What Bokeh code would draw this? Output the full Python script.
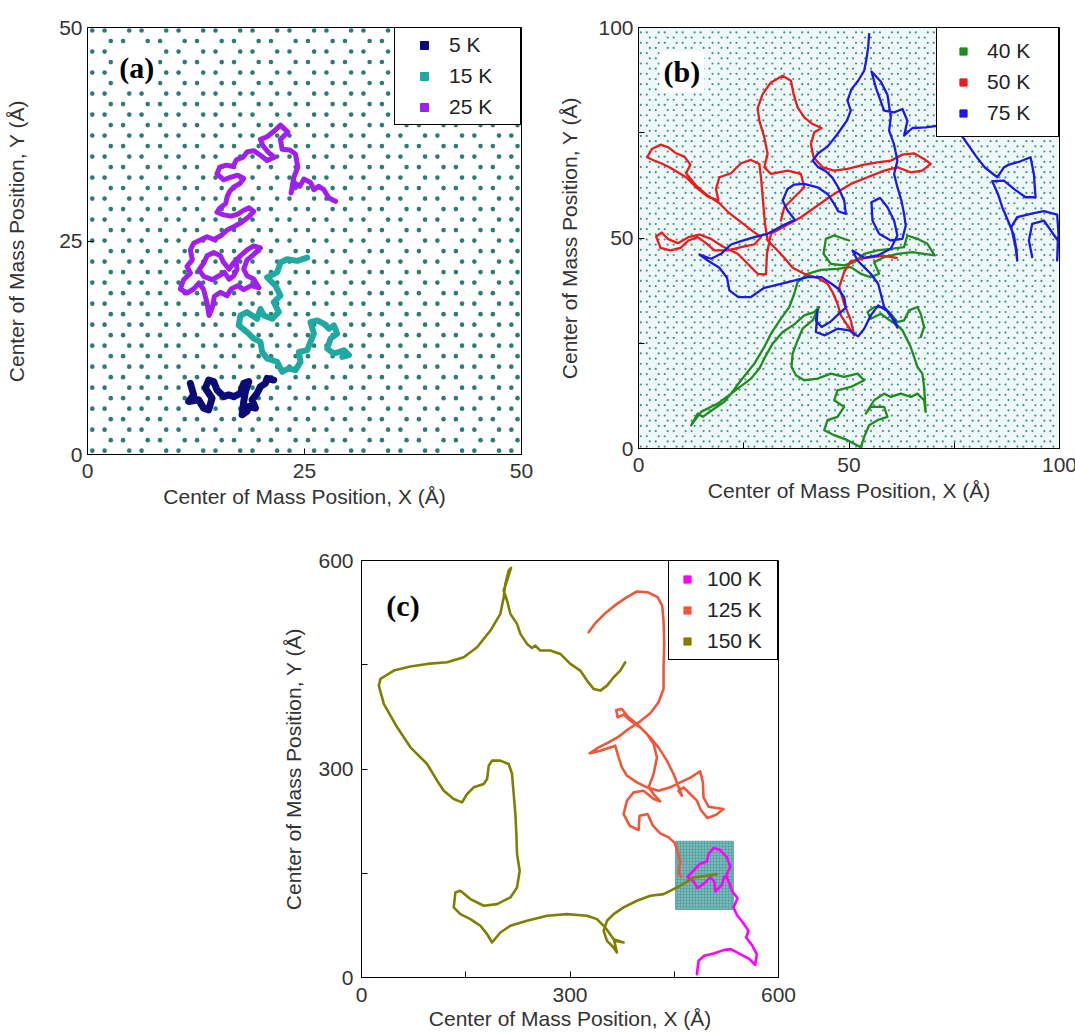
import numpy as np
from bokeh.plotting import figure
from bokeh.models import Range1d, FixedTicker, Label, Spacer
from bokeh.layouts import column, row
from bokeh.embed import file_html
from bokeh.resources import INLINE

FONT = "Liberation Sans"
SERIF = "Liberation Serif"
XLABEL = "Center of Mass Position, X (Å)"
YLABEL = "Center of Mass Position, Y (Å)"

# ---------------- centre-of-mass trajectories (Å) ----------------
# panel (a)
traj_5K = [(11.85, 8.33), (12.23, 6.98), (11.65, 6.20), (12.81, 6.40), (13.38, 5.43), (13.96, 5.23),
           (14.35, 6.59), (13.58, 7.75), (13.96, 8.72), (14.54, 8.53), (14.92, 7.56), (15.69, 6.78),
           (16.27, 6.98), (16.85, 6.78), (17.62, 7.17), (18.00, 8.33), (18.58, 8.53), (18.19, 7.36),
           (18.00, 6.20), (17.81, 4.65), (18.38, 5.04), (18.58, 5.62), (19.35, 5.43), (18.96, 6.40),
           (19.54, 7.17), (19.92, 7.95), (20.50, 8.33), (20.69, 8.91), (21.46, 8.72)]
traj_15K = [(25.31, 23.06), (24.15, 22.67), (23.00, 22.87), (22.23, 22.48), (21.85, 21.32), (20.69, 20.74),
            (21.65, 19.77), (22.23, 18.60), (21.46, 17.83), (22.04, 16.67), (21.27, 15.89), (20.31, 16.28),
            (19.92, 17.05), (19.54, 15.89), (18.38, 16.67), (17.62, 16.28), (17.42, 15.12), (18.38, 14.34),
            (19.15, 13.57), (19.92, 13.18), (20.12, 12.02), (20.69, 11.24), (21.85, 10.85), (22.42, 9.69),
            (23.19, 10.08), (23.96, 9.88), (24.54, 10.85), (24.35, 12.02), (25.31, 12.21), (25.69, 13.18),
            (26.08, 14.15), (25.69, 15.50), (26.46, 15.70), (27.23, 15.31), (27.81, 14.73), (28.38, 15.12),
            (28.77, 14.15), (28.00, 13.57), (27.62, 12.40), (28.38, 11.82), (29.54, 12.21), (30.12, 11.63),
            (29.35, 11.43)]
traj_25K = [(28.58, 29.65), (27.81, 30.04), (27.23, 31.01), (26.65, 31.40), (26.08, 31.01), (25.69, 31.86),
            (24.92, 32.25), (24.46, 31.40), (23.77, 31.86), (23.46, 30.62), (23.77, 32.48), (24.23, 33.64),
            (23.96, 35.19), (23.31, 35.66), (22.42, 35.74), (22.23, 36.90), (23.08, 37.75), (22.23, 38.57),
            (21.54, 37.91), (20.69, 37.21), (19.92, 36.90), (20.23, 36.12), (20.88, 35.35), (21.54, 34.81),
            (20.69, 34.42), (19.92, 35.04), (19.15, 35.58), (18.38, 35.43), (17.92, 34.81), (17.15, 34.50),
            (16.77, 33.72), (16.00, 33.88), (15.23, 33.64), (14.92, 32.87), (15.69, 32.17), (16.54, 32.48),
            (17.31, 32.71), (18.00, 32.33), (17.54, 31.71), (16.85, 31.32), (16.38, 30.81), (16.08, 30.16),
            (15.92, 29.38), (15.23, 28.84), (14.92, 28.37), (15.69, 28.06), (16.54, 27.91), (17.31, 28.14),
            (18.00, 28.60), (18.62, 28.88), (19.15, 28.45), (18.58, 27.83), (17.69, 27.13), (16.85, 26.67),
            (16.08, 26.28), (15.31, 25.58), (14.54, 25.19), (13.77, 25.50), (13.00, 25.12), (12.23, 24.73),
            (11.85, 23.95), (12.08, 22.79), (11.46, 22.02), (11.85, 21.24), (11.08, 20.47), (10.69, 19.38),
            (11.46, 18.91), (12.23, 19.38), (12.85, 20.08), (13.38, 19.30), (13.77, 17.75), (14.00, 16.28),
            (14.38, 17.21), (14.62, 18.53), (15.31, 18.99), (16.08, 18.60), (16.54, 19.38), (17.31, 19.77),
            (18.00, 19.30), (18.85, 19.77), (19.77, 19.53), (19.15, 20.54), (18.38, 20.93), (18.00, 21.71),
            (18.38, 22.79), (19.15, 23.41), (19.92, 24.19), (19.15, 24.42), (18.38, 23.95), (17.62, 23.26),
            (16.85, 22.48), (16.31, 21.71), (15.69, 22.48), (15.31, 23.26), (14.54, 23.64), (13.77, 23.26),
            (13.38, 22.40), (12.85, 21.63), (13.38, 20.85), (14.38, 20.47), (15.15, 20.93), (15.77, 21.32),
            (16.31, 20.54), (16.85, 20.93), (17.23, 21.71), (17.08, 22.87)]

# panel (b)
traj_40K = [(50.04, 49.41), (46.48, 50.59), (44.51, 49.80), (43.95, 46.25), (45.69, 43.87), (48.85, 43.48),
            (51.23, 44.27), (53.60, 46.25), (56.76, 47.04), (59.92, 47.43), (63.08, 47.83), (63.87, 50.59),
            (66.25, 49.80), (68.62, 48.62), (70.36, 45.85), (67.83, 46.25), (65.06, 46.64), (61.50, 46.25),
            (58.34, 45.45), (55.97, 44.27), (57.15, 41.50), (55.18, 40.71), (52.81, 41.50), (50.43, 43.08),
            (47.27, 42.69), (43.32, 42.45), (40.16, 41.50), (37.79, 39.53), (37.00, 36.76), (35.81, 33.60),
            (33.83, 30.83), (31.46, 27.27), (29.88, 24.11), (27.51, 20.16), (24.35, 16.21), (21.98, 13.04),
            (20.40, 11.07), (18.02, 9.49), (15.26, 7.51), (14.07, 8.30), (12.49, 5.53), (14.86, 8.70),
            (18.81, 10.67), (23.56, 14.23), (26.72, 16.60), (28.70, 18.97), (30.28, 22.13), (31.86, 24.90),
            (34.23, 27.67), (37.00, 29.49), (39.37, 31.62), (41.74, 32.41), (42.92, 33.60), (41.34, 30.43),
            (38.97, 28.46), (37.79, 25.69), (36.60, 22.53), (36.36, 19.37), (37.39, 17.39), (39.37, 16.21),
            (42.53, 16.60), (45.69, 17.79), (48.85, 17.00), (52.02, 17.79), (53.60, 16.21), (50.43, 14.62),
            (47.27, 13.83), (46.48, 11.46), (48.85, 9.88), (47.27, 7.51), (44.90, 6.72), (44.11, 4.35),
            (46.48, 3.16), (49.64, 1.98), (52.81, 0.30), (53.60, 2.77), (54.78, 5.53), (56.76, 6.72),
            (59.13, 7.51), (58.34, 9.88), (55.18, 9.88), (53.99, 8.30), (55.97, 11.46), (58.34, 13.04),
            (59.92, 12.25), (62.29, 13.04), (64.66, 12.25), (66.25, 13.04), (67.83, 11.46), (68.22, 8.70),
            (67.83, 14.62), (67.43, 17.79), (66.25, 19.37), (65.45, 21.74), (64.66, 24.11), (63.87, 25.69),
            (62.69, 28.06), (61.50, 29.25), (59.13, 30.83), (57.55, 32.02), (55.18, 30.83), (54.39, 32.41),
            (55.97, 33.60), (58.34, 33.60), (59.92, 32.02), (61.50, 30.04), (63.08, 30.43), (64.27, 32.81),
            (66.25, 33.60), (67.03, 32.02), (67.83, 28.85), (67.03, 26.48)]
traj_50K = [(61.34, 45.30), (58.34, 45.77), (53.99, 45.30), (50.43, 44.51), (48.85, 41.90), (47.67, 38.34),
            (48.85, 34.39), (50.43, 30.43), (51.23, 26.88), (49.64, 29.25), (48.06, 31.62), (47.27, 34.39),
            (46.09, 37.15), (44.90, 39.13), (42.53, 40.55), (39.37, 41.50), (36.60, 42.92), (34.62, 45.30),
            (32.65, 47.43), (30.67, 49.41), (30.04, 53.36), (29.57, 58.89), (29.09, 64.43), (28.70, 67.59),
            (26.72, 68.54), (24.35, 67.75), (21.98, 65.38), (19.21, 64.43), (18.42, 61.66), (18.97, 58.89),
            (16.44, 59.84), (13.68, 62.05), (11.30, 64.43), (9.33, 65.61), (7.35, 66.80), (5.38, 67.75),
            (3.40, 68.54), (2.06, 69.17), (3.16, 71.15), (5.22, 72.17), (7.11, 71.54), (8.93, 70.12),
            (10.91, 69.33), (12.33, 67.43), (11.30, 65.38), (13.68, 62.45), (16.44, 60.08), (19.21, 58.26),
            (21.58, 55.89), (24.35, 53.75), (27.11, 51.62), (29.09, 50.20), (27.51, 48.46), (24.35, 47.83),
            (21.19, 47.04), (18.02, 47.04), (16.05, 48.77), (14.07, 50.20), (11.86, 49.41), (9.96, 47.67),
            (7.59, 47.04), (5.22, 47.67), (4.19, 50.36), (5.53, 51.30), (6.96, 49.80), (9.33, 48.77),
            (11.86, 50.20), (14.47, 50.83), (17.23, 49.80), (20.00, 47.98), (23.56, 46.25), (25.93, 43.87),
            (28.30, 41.50), (30.28, 41.34), (30.51, 46.25), (31.46, 50.99), (34.62, 52.73), (38.58, 54.94),
            (42.53, 57.71), (46.48, 60.47), (50.43, 62.85), (54.39, 64.43), (58.34, 66.01), (61.50, 66.80),
            (64.66, 65.61), (67.43, 66.01), (69.41, 67.59), (67.83, 68.77), (65.45, 70.12), (62.69, 69.80),
            (59.92, 68.38), (56.76, 67.98), (53.60, 67.43), (49.64, 66.40), (46.48, 66.01), (43.72, 66.80),
            (41.58, 69.17), (40.95, 72.33), (41.74, 75.10), (43.48, 76.13), (41.34, 77.07), (39.37, 78.66),
            (37.79, 81.03), (36.84, 84.19), (36.21, 87.35), (34.23, 88.54), (31.46, 86.96), (29.49, 84.19),
            (28.30, 80.87), (28.70, 77.87), (29.88, 73.91), (30.67, 69.96), (29.88, 66.80), (31.46, 65.22),
            (35.41, 66.01), (38.58, 65.22), (39.37, 62.05), (37.00, 59.68), (34.62, 57.31), (33.83, 54.15)]
traj_75K = [(54.78, 98.42), (54.55, 95.26), (54.07, 92.09), (53.60, 89.72), (52.17, 87.35), (50.59, 85.37),
            (49.64, 82.61), (50.43, 80.24), (49.49, 77.86), (47.27, 74.70), (44.90, 71.70), (42.69, 70.12),
            (41.34, 68.38), (42.69, 66.80), (44.51, 65.85), (46.09, 64.27), (47.43, 62.05), (48.85, 58.89),
            (49.25, 55.73), (47.43, 56.36), (46.48, 58.10), (44.90, 60.47), (42.53, 62.05), (39.37, 62.84),
            (37.00, 62.69), (35.41, 61.66), (34.23, 58.89), (35.41, 56.52), (37.15, 54.31), (34.23, 52.96),
            (30.67, 50.99), (27.51, 50.20), (24.35, 49.25), (21.98, 48.46), (19.60, 46.24), (17.23, 45.06),
            (14.47, 46.09), (16.44, 44.66), (19.21, 42.92), (21.03, 40.55), (21.58, 37.55), (23.72, 35.97),
            (26.72, 35.97), (29.88, 38.18), (33.83, 39.13), (37.15, 39.92), (40.16, 40.71), (43.48, 40.71),
            (45.85, 39.13), (47.43, 37.94), (48.85, 35.97), (49.25, 33.44), (47.43, 31.86), (45.53, 30.04),
            (43.48, 28.85), (42.13, 30.43), (42.53, 32.81), (42.13, 27.67), (44.27, 26.88), (47.27, 28.46),
            (50.04, 28.06), (52.17, 26.64), (53.60, 28.46), (55.18, 31.62), (56.92, 33.99), (59.13, 32.65),
            (60.87, 30.43), (61.50, 28.70), (60.08, 31.23), (58.34, 33.60), (57.55, 36.76), (56.92, 39.13),
            (55.18, 41.50), (53.60, 43.08), (52.02, 44.66), (50.83, 47.04), (53.60, 45.30), (56.76, 45.85),
            (59.92, 47.43), (61.50, 50.59), (60.71, 54.15), (59.13, 57.31), (57.39, 59.53), (55.34, 58.50),
            (55.57, 54.15), (57.15, 50.99), (59.92, 49.41), (62.69, 49.80), (63.48, 52.96), (63.08, 55.73),
            (62.45, 58.89), (61.50, 62.05), (60.71, 65.22), (61.50, 68.38), (60.71, 72.17), (59.53, 75.49),
            (59.92, 78.65), (59.13, 84.03), (57.55, 87.19), (55.34, 89.56), (56.36, 85.77), (58.34, 80.24),
            (60.71, 79.84), (62.69, 80.63), (63.87, 77.86), (63.08, 74.31), (65.06, 76.13), (68.22, 76.28),
            (71.38, 76.68), (74.78, 77.07), (76.52, 74.70), (78.26, 72.17), (80.08, 69.57), (82.21, 66.80),
            (85.22, 64.43), (86.80, 66.80), (87.98, 67.43), (90.75, 68.22), (93.12, 69.17), (93.91, 65.22),
            (94.31, 59.68), (91.94, 59.68), (89.17, 61.66), (86.80, 63.64), (84.03, 63.48), (85.38, 60.47),
            (86.40, 57.31), (87.75, 54.15), (89.17, 50.59), (89.80, 47.04), (89.96, 44.66), (89.56, 47.83),
            (88.54, 52.57), (89.96, 54.94), (93.12, 55.73), (96.28, 56.36), (99.45, 55.57), (99.76, 50.99),
            (99.45, 44.66), (99.60, 49.41), (96.28, 54.15), (93.52, 53.36), (92.73, 49.41), (93.52, 45.45)]

# panel (c)
traj_100K = [(482.6, 4.8), (485.0, 24.0), (493.1, 31.2), (506.5, 34.6), (520.9, 39.4), (531.4, 40.8),
             (544.9, 33.6), (558.3, 26.4), (566.4, 18.2), (568.8, 33.6), (561.6, 47.0), (553.5, 57.6),
             (556.8, 67.2), (548.7, 79.2), (540.1, 90.2), (535.3, 100.8), (541.0, 114.2), (532.9, 124.8),
             (529.5, 135.4), (524.7, 146.4), (530.5, 159.4), (525.7, 172.8), (516.1, 183.4), (506.5, 186.2),
             (499.3, 177.6), (496.9, 167.0), (486.4, 163.2), (476.8, 152.6), (469.1, 145.0), (477.8, 138.2),
             (483.5, 128.6), (493.1, 135.4), (501.7, 144.0), (507.5, 138.2), (509.4, 123.8), (518.5, 133.4),
             (521.9, 145.0)]
traj_125K = [(326.8, 496.8), (336.4, 509.8), (350.8, 524.2), (367.5, 537.6), (381.9, 547.2), (396.3, 555.4),
             (411.6, 554.4), (426.0, 547.2), (432.7, 535.2), (434.6, 513.6), (435.6, 480.0), (434.6, 446.4),
             (434.6, 415.2), (427.4, 396.0), (415.5, 380.2), (401.1, 368.6), (384.3, 357.6), (369.9, 346.6),
             (355.6, 338.4), (341.2, 331.2), (328.3, 322.6), (343.6, 326.4), (365.1, 333.6), (369.9, 316.8),
             (374.7, 302.4), (381.9, 290.4), (396.3, 280.8), (410.7, 273.6), (427.4, 268.8), (444.2, 273.6),
             (458.6, 280.8), (473.9, 288.0), (487.3, 296.6), (491.2, 280.8), (492.1, 259.2), (499.3, 245.8),
             (520.9, 242.4), (510.3, 234.2), (497.9, 229.4), (488.3, 241.0), (482.6, 254.4), (473.0, 264.0),
             (463.4, 273.6), (456.2, 268.8), (461.0, 261.6), (449.0, 292.8), (439.4, 312.0), (427.4, 331.2),
             (415.5, 345.6), (401.1, 360.0), (386.7, 369.6), (377.1, 378.2), (368.5, 374.4), (366.6, 385.0),
             (374.7, 386.4), (384.3, 374.4), (396.3, 364.8), (410.7, 350.4), (420.3, 336.0), (425.1, 316.8),
             (420.3, 292.8), (413.1, 273.6), (420.3, 264.0), (429.8, 253.4), (420.3, 256.8), (405.9, 268.8),
             (391.5, 266.4), (381.9, 254.4), (377.1, 235.2), (385.8, 218.4), (398.7, 212.2), (400.1, 232.8),
             (411.6, 235.2), (419.3, 218.4), (429.8, 207.4), (441.8, 201.6), (450.0, 194.4), (454.8, 182.4),
             (458.6, 165.6), (456.2, 151.2), (459.6, 145.0)]
traj_150K = [(511.3, 148.8), (496.9, 146.4), (477.8, 144.0), (458.6, 132.0), (449.0, 127.2), (434.6, 120.0),
             (415.5, 117.6), (396.3, 110.4), (377.1, 100.8), (362.8, 91.2), (353.2, 81.6), (348.4, 67.2),
             (353.2, 52.8), (362.8, 43.2), (367.5, 36.0), (363.7, 52.8), (377.1, 50.4), (362.8, 55.2),
             (350.8, 72.0), (338.8, 84.0), (324.4, 88.8), (295.7, 91.2), (266.9, 88.8), (238.2, 81.6),
             (214.2, 74.4), (199.8, 64.8), (187.8, 50.4), (180.7, 62.4), (171.1, 74.4), (156.7, 84.0),
             (142.3, 91.2), (132.7, 100.8), (135.1, 122.4), (142.3, 124.8), (156.7, 112.8), (175.9, 103.2),
             (195.0, 105.6), (214.2, 115.2), (223.8, 129.6), (227.6, 153.6), (223.8, 177.6), (222.8, 206.4),
             (221.4, 235.2), (219.0, 264.0), (216.6, 292.8), (211.8, 307.2), (199.8, 312.0), (187.8, 312.0),
             (183.1, 304.8), (180.7, 285.6), (175.9, 278.4), (161.5, 273.6), (151.9, 264.0), (144.7, 252.0),
             (132.7, 256.8), (118.4, 268.8), (108.8, 283.2), (94.4, 307.2), (70.4, 331.2), (51.3, 360.0),
             (32.1, 393.6), (24.9, 420.0), (27.3, 429.6), (46.5, 441.6), (70.4, 447.4), (94.4, 451.2),
             (123.2, 453.6), (147.1, 460.8), (166.3, 475.2), (185.5, 499.2), (199.8, 523.2), (204.6, 547.2),
             (207.0, 566.4), (211.8, 585.6), (215.2, 589.4), (209.4, 571.2), (204.6, 556.8), (209.4, 542.4),
             (214.2, 523.2), (223.8, 508.8), (228.6, 494.4), (238.2, 480.0), (245.4, 474.2), (250.1, 477.6),
             (257.3, 470.4), (271.7, 470.4), (286.1, 465.6), (300.5, 451.2), (314.8, 441.6), (324.4, 427.2),
             (334.0, 415.2), (343.6, 412.8), (353.2, 420.0), (362.8, 432.0), (372.3, 441.6), (379.5, 453.6)]

# simulation-cell outline shown in panel (c), Å
cell_x = (452.0, 535.0)
cell_y = (98.0, 196.0)

# legends: label, colour, trajectory, line width
series_a = [("5 K", "#0b0b78", traj_5K, 7.0), ("15 K", "#1fa9a1", traj_15K, 6.0),
            ("25 K", "#a01ff0", traj_25K, 5.0)]
series_b = [("40 K", "#1f8c1f", traj_40K, 2.3), ("50 K", "#ec1c1c", traj_50K, 2.3),
            ("75 K", "#1a1aeb", traj_75K, 2.3)]
series_c = [("100 K", "#ff00ff", traj_100K, 2.6), ("125 K", "#f0573a", traj_125K, 2.6),
            ("150 K", "#7f7f00", traj_150K, 2.6)]

LATTICE = "#2c7c76"
CC = 1.42  # C-C bond length of the graphene substrate, Å


def graphene_sites(xmax, ymax, x0=0.55, y0=0.45):
    """Armchair-oriented honeycomb sites covering [0, xmax] x [0, ymax]."""
    dy = np.sqrt(3) / 2 * CC
    period = 3 * CC
    xs, ys = [], []
    k = 0
    while y0 + k * dy < ymax - 0.2:
        y = y0 + k * dy
        base = (0.0, CC) if k % 2 == 0 else (1.5 * CC, 2.5 * CC)
        n = 0
        while x0 + n * period < xmax:
            for b in base:
                x = x0 + n * period + b
                if x < xmax - 0.2:
                    xs.append(x)
                    ys.append(y)
            n += 1
        k += 1
    return xs, ys


def make_panel(rng, ticks, shown, fw, fh, borders, bg="white"):
    left, right, top, bottom = borders
    p = figure(x_range=Range1d(*rng), y_range=Range1d(*rng),
               frame_width=fw, frame_height=fh,
               min_border_left=left, min_border_right=right,
               min_border_top=top, min_border_bottom=bottom,
               output_backend="svg", toolbar_location=None,
               background_fill_color=bg, border_fill_color="white")
    p.grid.visible = False
    p.outline_line_color = "black"
    p.outline_line_alpha = 1.0
    p.outline_line_width = 1
    for ax in (p.xaxis, p.yaxis):
        ax.ticker = FixedTicker(ticks=ticks)
        ax.major_label_overrides = {t: "" for t in ticks if t not in shown}
        ax.major_tick_in = 6
        ax.major_tick_out = 0
        ax.major_tick_line_color = "black"
        ax.minor_tick_line_color = None
        ax.axis_line_color = "black"
        ax.major_label_text_font = FONT
        ax.major_label_text_font_size = "21px"
        ax.major_label_text_color = "#333333"
        ax.axis_label_text_font = FONT
        ax.axis_label_text_font_size = "21px"
        ax.axis_label_text_font_style = "normal"
        ax.axis_label_text_color = "#333333"
    p.xaxis.axis_label = XLABEL
    p.yaxis.axis_label = YLABEL
    return p


def add_legend(p, series, glyph_w, glyph_h, spacing, padding, standoff, label_w):
    # legend keys only: a square marker with no visible position
    for name, col, _, _ in series:
        p.scatter(x=[float("nan")], y=[float("nan")], marker="square", color=col,
                  legend_label=name)
    lg = p.legend[0]
    lg.location = "top_right"
    lg.margin = 0
    lg.border_line_color = "black"
    lg.border_line_width = 1
    lg.border_line_alpha = 1
    lg.background_fill_color = "white"
    lg.background_fill_alpha = 1
    lg.label_text_font = FONT
    lg.label_text_font_size = "21px"
    lg.label_text_color = "#222222"
    lg.glyph_width = glyph_w
    lg.glyph_height = glyph_h
    lg.label_height = glyph_h
    lg.label_width = label_w
    lg.spacing = spacing
    lg.padding = padding
    lg.label_standoff = standoff


def add_tag(p, x, y, text):
    p.add_layout(Label(x=x, y=y, text=text, text_font=SERIF, text_font_style="bold",
                       text_font_size="30px", text_baseline="middle", text_align="left",
                       text_color="black", background_fill_color="white", padding=4))


def add_paths(p, series):
    for name, col, tr, lw in series:
        xs, ys = zip(*tr)
        p.line(list(xs), list(ys), color=col, line_width=lw, line_join="round", line_cap="round")


# ---------------- panel (a) ----------------
pa = make_panel((0, 50), [0, 25, 50], [0, 25, 50], 434, 427, (87, 34, 24, 69))
lx, ly = graphene_sites(50, 50)
pa.scatter(lx, ly, size=4.6, color=LATTICE, line_color=None)
add_paths(pa, series_a)
add_legend(pa, series_a, 48, 20, 7, 5, 1, 66)
add_tag(pa, 3.2, 45.3, "(a)")
pa.xaxis.major_label_standoff = 9
pa.xaxis.axis_label_standoff = 4
pa.yaxis.major_label_standoff = 5
pa.yaxis.axis_label_standoff = 28

# ---------------- panel (b) ----------------
pb = make_panel((0, 100), [0, 25, 50, 75, 100], [0, 50, 100], 421, 421, (80, 19, 27, 72), bg="#eef8f8")
lx, ly = graphene_sites(100, 100)
pb.scatter(lx, ly, size=2.2, color=LATTICE, line_color=None, alpha=0.85)
add_paths(pb, series_b)
add_legend(pb, series_b, 30, 18, 7, 11, 9, 60)
add_tag(pb, 5.0, 89.5, "(b)")
pb.xaxis.major_label_standoff = 9
pb.xaxis.axis_label_standoff = 4
pb.yaxis.major_label_standoff = 5
pb.yaxis.axis_label_standoff = 14

# ---------------- panel (c) ----------------
pc = make_panel((0, 600), [0, 150, 300, 450, 600], [0, 300, 600], 417, 417, (106, 40, 40, 55))
pc.quad(left=cell_x[0], right=cell_x[1], bottom=cell_y[0], top=cell_y[1],
        fill_color="#79baba", line_color="#5aa0a0", line_width=1,
        hatch_pattern="+", hatch_color="#4f9898", hatch_scale=3, hatch_weight=0.6)
add_paths(pc, series_c)
add_legend(pc, series_c, 24, 18, 7, 6, 8, 64)
add_tag(pc, 30.0, 535.0, "(c)")
pc.xaxis.major_label_standoff = 10
pc.xaxis.axis_label_standoff = 2
pc.yaxis.major_label_standoff = 8
pc.yaxis.axis_label_standoff = 10

layout = column(row(pa, pb), row(Spacer(width=255, height=10), pc))

open("out.html", "w").write(file_html(layout, INLINE))
